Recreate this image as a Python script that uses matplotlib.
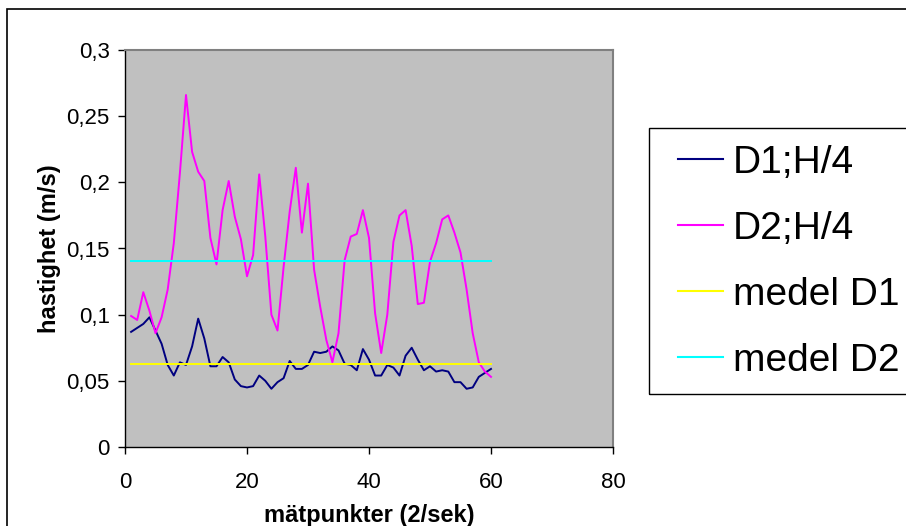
import matplotlib.pyplot as plt
import matplotlib.patches as mpatches
from matplotlib.ticker import FuncFormatter

plt.rcParams['font.family'] = ['Liberation Sans', 'DejaVu Sans']

matpunkt = list(range(1, 61))
d1 = [0.087, 0.090, 0.093, 0.098, 0.088, 0.078, 0.062, 0.054, 0.064, 0.062,
      0.076, 0.097, 0.082, 0.061, 0.061, 0.068, 0.064, 0.051, 0.046, 0.045,
      0.046, 0.054, 0.050, 0.044, 0.049, 0.052, 0.065, 0.059, 0.059, 0.062,
      0.072, 0.071, 0.072, 0.076, 0.073, 0.063, 0.062, 0.058, 0.074, 0.066,
      0.054, 0.054, 0.062, 0.060, 0.054, 0.069, 0.075, 0.066, 0.058, 0.061,
      0.057, 0.058, 0.057, 0.049, 0.049, 0.044, 0.045, 0.053, 0.056, 0.059]
d2 = [0.099, 0.096, 0.117, 0.103, 0.086, 0.098, 0.119, 0.154, 0.207, 0.266,
      0.223, 0.208, 0.201, 0.158, 0.138, 0.179, 0.201, 0.174, 0.157, 0.129,
      0.145, 0.206, 0.159, 0.100, 0.088, 0.136, 0.178, 0.211, 0.162, 0.199,
      0.134, 0.106, 0.081, 0.064, 0.086, 0.141, 0.159, 0.161, 0.179, 0.158,
      0.101, 0.071, 0.100, 0.155, 0.175, 0.179, 0.152, 0.108, 0.109, 0.140,
      0.154, 0.172, 0.175, 0.162, 0.147, 0.119, 0.086, 0.064, 0.057, 0.053]
medel_d1 = [0.063] * 60
medel_d2 = [0.1405] * 60

W, H = 906, 526
fig = plt.figure(figsize=(W/100, H/100), dpi=100)
ax = fig.add_axes([125/W, (H-447)/H, 488/W, 397/H])
ax.set_facecolor('#C0C0C0')

# yttre ram
fig.patches.append(mpatches.Rectangle((7/W, -0.1), 1.2, (H-9)/H + 0.1,
                                      transform=fig.transFigure, fill=False,
                                      edgecolor='black', linewidth=1.2))
# legendram
fig.patches.append(mpatches.Rectangle((649/W, (H-394)/H), 0.5, 266/H,
                                      transform=fig.transFigure, fill=False,
                                      edgecolor='black', linewidth=1))

ax.plot(matpunkt, d1, color='#000080', lw=1.4, label='D1;H/4')
ax.plot(matpunkt, d2, color='#FF00FF', lw=1.4, label='D2;H/4')
ax.plot(matpunkt, medel_d1, color='#FFFF00', lw=1.4, label='medel D1')
ax.plot(matpunkt, medel_d2, color='#00FFFF', lw=1.4, label='medel D2')

ax.set_xlim(0, 80)
ax.set_ylim(0, 0.3)
ax.set_xticks([0, 20, 40, 60, 80])
ax.set_yticks([0, 0.05, 0.1, 0.15, 0.2, 0.25, 0.3])
ax.yaxis.set_major_formatter(FuncFormatter(lambda v, p: ('%g' % round(v, 2)).replace('.', ',')))
ax.tick_params(labelsize=16, direction='out', length=5, width=1, color='black')
ax.tick_params(axis='x', pad=13)
ax.tick_params(axis='y', pad=6)

for s in ['top', 'right']:
    ax.spines[s].set_color('#808080')
    ax.spines[s].set_linewidth(1.5)
for s in ['left', 'bottom']:
    ax.spines[s].set_color('black')
    ax.spines[s].set_linewidth(1)

ax.set_xlabel('mätpunkter (2/sek)', fontsize=17, fontweight='bold', labelpad=8)
ax.set_ylabel('hastighet (m/s)', fontsize=17, fontweight='bold', labelpad=4)

leg = fig.legend(loc='upper left', bbox_to_anchor=(678/W, 1 - 145/H),
                 fontsize=28, frameon=False, handlelength=1.16,
                 handletextpad=0.26, labelspacing=0.77, borderpad=0,
                 borderaxespad=0)
for line in leg.get_lines():
    line.set_linewidth(1.5)

plt.savefig('out.png', dpi=100)
